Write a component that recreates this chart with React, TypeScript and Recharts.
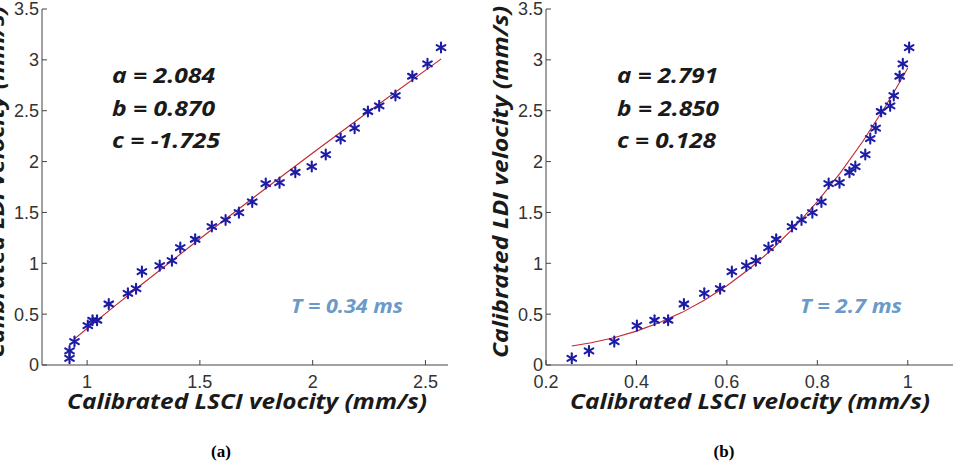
import React from 'react';
import { ScatterChart, Scatter, XAxis, YAxis } from 'recharts';

// Calibrated LDI velocity (mm/s), shared by both panels
const ldiVelocity = [
  0.066, 0.138, 0.23, 0.387, 0.44, 0.44, 0.6, 0.705, 0.75, 0.918, 0.977, 1.026,
  1.154, 1.236, 1.361, 1.426, 1.498, 1.603, 1.784, 1.793, 1.895, 1.951, 2.069,
  2.226, 2.328, 2.492, 2.548, 2.649, 2.839, 2.961, 3.121,
];

// Calibrated LSCI velocity (mm/s), exposure T = 0.34 ms
const lsciShort = [
  0.922, 0.922, 0.944, 1.003, 1.024, 1.044, 1.096, 1.181, 1.217, 1.243, 1.322,
  1.376, 1.413, 1.479, 1.553, 1.614, 1.673, 1.732, 1.792, 1.853, 1.923, 1.996,
  2.058, 2.124, 2.186, 2.245, 2.295, 2.367, 2.442, 2.509, 2.569,
];

// Calibrated LSCI velocity (mm/s), exposure T = 2.7 ms
const lsciLong = [
  0.257, 0.295, 0.351, 0.401, 0.44, 0.47, 0.505, 0.55, 0.585, 0.611, 0.643,
  0.664, 0.692, 0.709, 0.744, 0.765, 0.789, 0.809, 0.825, 0.849, 0.871, 0.884,
  0.906, 0.917, 0.929, 0.941, 0.961, 0.969, 0.982, 0.989, 1.003,
];

// Fitted curves
const fitShortX = [0.94, 1.0, 1.1, 1.25, 1.5, 1.75, 2.0, 2.25, 2.57];
const fitShortY = [0.25, 0.359, 0.539, 0.806, 1.241, 1.666, 2.084, 2.495, 3.01];
const fitLongX = [0.257, 0.3, 0.35, 0.4, 0.45, 0.5, 0.55, 0.6, 0.65, 0.7, 0.75, 0.8, 0.85, 0.9, 0.95, 0.975, 1.0];
const fitLongY = [0.186, 0.218, 0.268, 0.333, 0.415, 0.515, 0.636, 0.779, 0.946, 1.138, 1.357, 1.606, 1.884, 2.195, 2.539, 2.725, 2.919];

// Axis ticks
const yTicks = [0, 0.5, 1, 1.5, 2, 2.5, 3, 3.5];
const xTicksShort = [1, 1.5, 2, 2.5];
const xTicksLong = [0.2, 0.4, 0.6, 0.8, 1];

// Fit parameters and labels
const paramsShort = ['a = 2.084', 'b = 0.870', 'c = -1.725'];
const paramsLong = ['a = 2.791', 'b = 2.850', 'c = 0.128'];
const exposureShort = 'T = 0.34 ms';
const exposureLong = 'T = 2.7 ms';
const xTitle = 'Calibrated LSCI velocity (mm/s)';
const yTitle = 'Calibrated LDI velocity (mm/s)';
const captions = ['(a)', '(b)'];

// Rendered widths of the text blocks (px)
const paramWidthsShort = [103, 103, 108];
const paramWidthsLong = [101, 102, 99];

const zip = (xs: number[], ys: number[]) => xs.map((x, i) => ({ x, y: ys[i] }));

const AXIS = '#444';
const TICK_FONT = {
  fontSize: 18,
  fill: '#333',
  fontFamily: '"Liberation Sans Narrow", "Liberation Sans", Arial, sans-serif',
};
const MARK = '#1c1ca6';
const FIT = '#c0282e';
const TITLE_FONT = '"Open Sans", Lato, sans-serif';

const Asterisk = (props: any) => {
  const { cx, cy } = props;
  if (cx == null || cy == null) return <g />;
  const r = 5;
  const d = r * Math.cos(Math.PI / 6);
  const h = r * 0.5;
  return (
    <g stroke={MARK} strokeWidth={2.1} strokeLinecap="round">
      <line x1={cx} y1={cy - r} x2={cx} y2={cy + r} />
      <line x1={cx - d} y1={cy - h} x2={cx + d} y2={cy + h} />
      <line x1={cx - d} y1={cy + h} x2={cx + d} y2={cy - h} />
    </g>
  );
};

const NoDot = () => <g />;

type PanelProps = {
  left: number;
  width: number;
  yAxisWidth: number;
  marginRight: number;
  xDomain: [number, number];
  xTicks: number[];
  points: { x: number; y: number }[];
  fit: { x: number; y: number }[];
};

const Panel = ({ left, width, yAxisWidth, marginRight, xDomain, xTicks, points, fit }: PanelProps) => (
  <div style={{ position: 'absolute', left, top: 0 }}>
    <ScatterChart
      width={width}
      height={420}
      margin={{ top: 9, right: marginRight, bottom: 25, left: 0 }}
    >
      <XAxis
        xAxisId="b"
        type="number"
        dataKey="x"
        domain={xDomain}
        ticks={xTicks}
        allowDataOverflow
        height={30}
        stroke={AXIS}
        tickSize={-5}
        tickMargin={15}
        tick={TICK_FONT}
        interval={0}
      />
      <XAxis
        xAxisId="t"
        orientation="top"
        type="number"
        dataKey="x"
        domain={xDomain}
        ticks={xTicks}
        allowDataOverflow
        height={0}
        stroke={AXIS}
        tickSize={-5}
        tick={false}
        interval={0}
      />
      <YAxis
        yAxisId="l"
        type="number"
        dataKey="y"
        domain={[0, 3.5]}
        ticks={yTicks}
        allowDataOverflow
        width={yAxisWidth}
        stroke={AXIS}
        tickSize={-5}
        tickMargin={8}
        tick={TICK_FONT}
        interval={0}
      />
      <YAxis
        yAxisId="r"
        orientation="right"
        type="number"
        dataKey="y"
        domain={[0, 3.5]}
        ticks={yTicks}
        allowDataOverflow
        width={0}
        stroke={AXIS}
        tickSize={-5}
        tick={false}
        interval={0}
      />
      <Scatter
        xAxisId="b"
        yAxisId="l"
        data={fit}
        line={{ stroke: FIT, strokeWidth: 1.1 }}
        lineType="joint"
        shape={NoDot}
        isAnimationActive={false}
      />
      <Scatter
        xAxisId="b"
        yAxisId="l"
        data={points}
        shape={Asterisk}
        isAnimationActive={false}
      />
    </ScatterChart>
  </div>
);

const titleProps = {
  fontFamily: TITLE_FONT,
  fontWeight: 700,
  fontStyle: 'italic',
  lengthAdjust: 'spacingAndGlyphs',
} as const;

const ParamBlock = ({ x, lines, widths }: { x: number; lines: string[]; widths: number[] }) => (
  <>
    {lines.map((s, i) => (
      <text
        key={s}
        x={x}
        y={83 + i * 32.5}
        {...titleProps}
        fontSize={21}
        textLength={widths[i]}
        fill="#1a1a1a"
      >
        {s}
      </text>
    ))}
  </>
);

export default function App() {
  return (
    <div
      style={{
        position: 'absolute',
        left: 0,
        top: 0,
        width: 957,
        height: 466,
        background: '#fff',
        overflow: 'hidden',
      }}
    >
      <Panel
        left={0}
        width={460}
        yAxisWidth={42}
        marginRight={12}
        xDomain={[0.8, 2.6]}
        xTicks={xTicksShort}
        points={zip(lsciShort, ldiVelocity)}
        fit={zip(fitShortX, fitShortY)}
      />
      <Panel
        left={480}
        width={477}
        yAxisWidth={66}
        marginRight={4}
        xDomain={[0.2, 1.1]}
        xTicks={xTicksLong}
        points={zip(lsciLong, ldiVelocity)}
        fit={zip(fitLongX, fitLongY)}
      />
      <svg
        width={957}
        height={466}
        style={{ position: 'absolute', left: 0, top: 0, pointerEvents: 'none' }}
      >
        <ParamBlock x={112} lines={paramsShort} widths={paramWidthsShort} />
        <ParamBlock x={617} lines={paramsLong} widths={paramWidthsLong} />
        <text x={291} y={313} {...titleProps} fontSize={19} textLength={112} fill="#6b9ac8">
          {exposureShort}
        </text>
        <text x={800} y={313} {...titleProps} fontSize={19} textLength={102} fill="#6b9ac8">
          {exposureLong}
        </text>
        <text x={67} y={409} {...titleProps} fontSize={21} textLength={360} fill="#1a1a1a">
          {xTitle}
        </text>
        <text x={570} y={409} {...titleProps} fontSize={21} textLength={360} fill="#1a1a1a">
          {xTitle}
        </text>
        <text transform="translate(4,358) rotate(-90)" {...titleProps} fontSize={21} textLength={352} fill="#1a1a1a">
          {yTitle}
        </text>
        <text transform="translate(508,358) rotate(-90)" {...titleProps} fontSize={21} textLength={352} fill="#1a1a1a">
          {yTitle}
        </text>
        <text x={221} y={457} textAnchor="middle" fontFamily="Liberation Serif, Times New Roman, serif" fontWeight={700} fontSize={17} fill="#000">
          {captions[0]}
        </text>
        <text x={724} y={457} textAnchor="middle" fontFamily="Liberation Serif, Times New Roman, serif" fontWeight={700} fontSize={17} fill="#000">
          {captions[1]}
        </text>
      </svg>
    </div>
  );
}
